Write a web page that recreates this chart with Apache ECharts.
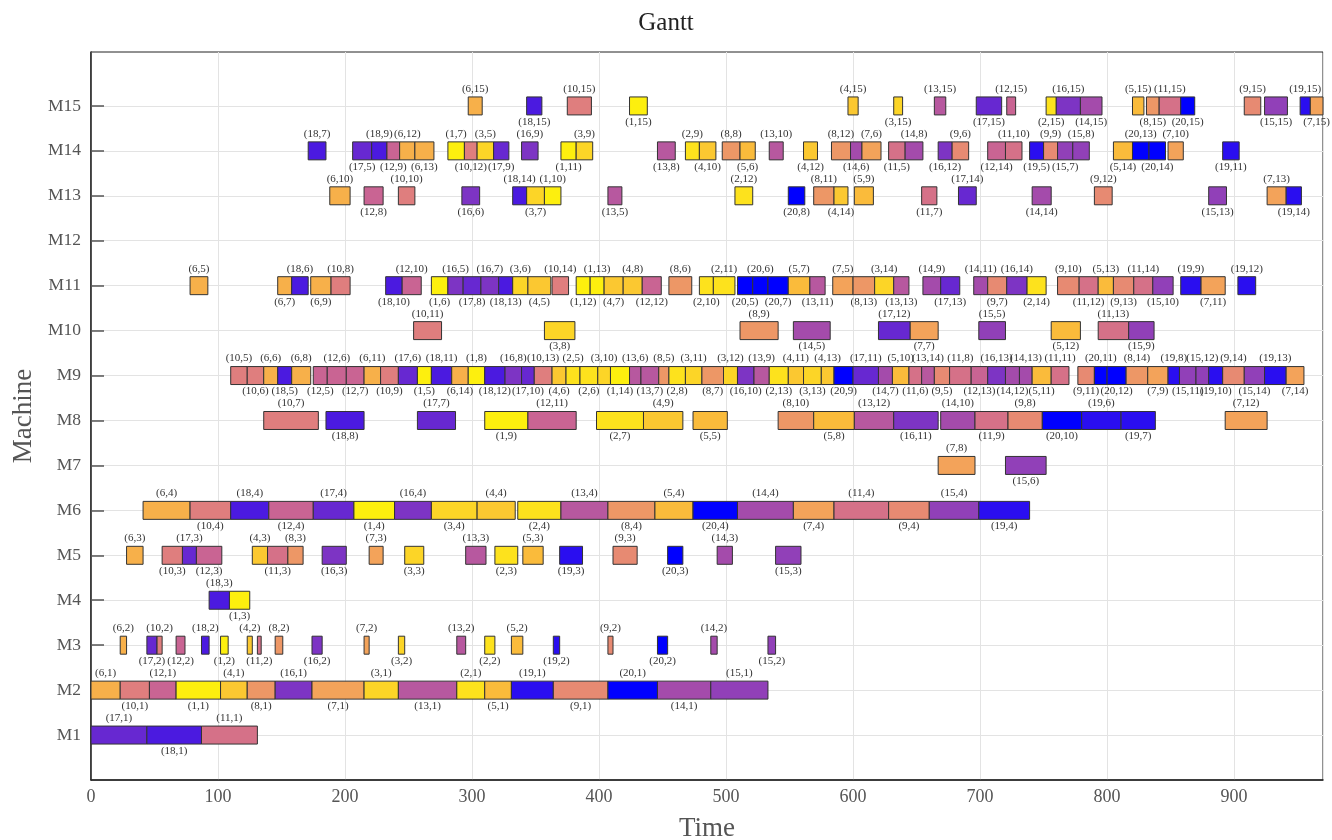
<!DOCTYPE html>
<html>
<head>
<meta charset="utf-8">
<title>Gantt</title>
<script src="https://cdn.jsdelivr.net/npm/echarts@6/dist/echarts.min.js"></script>
<style>
  html, body { margin: 0; padding: 0; background: #fff; }
  #chart { width: 1332px; height: 840px; }
</style>
</head>
<body>
<div id="chart"></div>
<script>
// operations on each machine, in time order: [job, op, start, end]
const m1 = [[17,1,0,44],[18,1,44,87],[11,1,87,131]]
const m2 = [[6,1,0,23],[10,1,23,46],[12,1,46,67],[1,1,67,102],[4,1,102,123],[8,1,123,145],[16,1,145,174],[7,1,174,215],[3,1,215,242],[13,1,242,288],[2,1,288,310],[5,1,310,331],[19,1,331,364],[9,1,364,407],[20,1,407,446],[14,1,446,488],[15,1,488,533]]
const m3 = [[6,2,23,28],[17,2,44,52],[10,2,52,56],[12,2,67,74],[18,2,87,93],[1,2,102,108],[4,2,123,127],[11,2,131,134],[8,2,145,151],[16,2,174,182],[7,2,215,219],[3,2,242,247],[13,2,288,295],[2,2,310,318],[5,2,331,340],[19,2,364,369],[9,2,407,411],[20,2,446,454],[14,2,488,493],[15,2,533,539]]
const m4 = [[18,3,93,109],[1,3,109,125]]
const m5 = [[6,3,28,41],[10,3,56,72],[17,3,72,83],[12,3,83,103],[4,3,127,139],[11,3,139,155],[8,3,155,167],[16,3,182,201],[7,3,219,230],[3,3,247,262],[13,3,295,311],[2,3,318,336],[5,3,340,356],[19,3,369,387],[9,3,411,430],[20,3,454,466],[14,3,493,505],[15,3,539,559]]
const m6 = [[6,4,41,78],[10,4,78,110],[18,4,110,140],[12,4,140,175],[17,4,175,207],[1,4,207,239],[16,4,239,268],[3,4,268,304],[4,4,304,334],[2,4,336,370],[13,4,370,407],[8,4,407,444],[5,4,444,474],[20,4,474,509],[14,4,509,553],[7,4,553,585],[11,4,585,628],[9,4,628,660],[15,4,660,699],[19,4,699,739]]
const m7 = [[7,8,667,696],[15,6,720,752]]
const m8 = [[10,7,136,179],[18,8,185,215],[17,7,257,287],[1,9,310,344],[12,11,344,382],[2,7,398,435],[4,9,435,466],[5,5,474,501],[8,10,541,569],[5,8,569,601],[13,12,601,632],[16,11,632,667],[14,10,669,696],[11,9,696,722],[9,8,722,749],[20,10,749,780],[19,6,780,811],[19,7,811,838],[7,12,893,926]]
const m9 = [[10,5,110,123],[10,6,123,136],[6,6,136,147],[18,5,147,158],[6,8,158,173],[12,5,175,186],[12,6,186,201],[12,7,201,215],[6,11,215,228],[10,9,228,242],[17,6,242,257],[1,5,257,268],[18,11,268,284],[6,14,284,297],[1,8,297,310],[18,12,310,326],[16,8,326,339],[17,10,339,349],[10,13,349,363],[4,6,363,374],[2,5,374,385],[2,6,385,399],[3,10,399,409],[1,14,409,424],[13,6,424,433],[13,7,433,447],[8,5,447,455],[2,8,455,468],[3,11,468,481],[8,7,481,498],[3,12,498,509],[16,10,509,522],[13,9,522,534],[2,13,534,549],[4,11,549,561],[3,13,561,575],[4,13,575,585],[20,9,585,600],[17,11,600,620],[14,7,620,631],[5,10,631,644],[11,6,644,654],[13,14,654,664],[9,5,664,676],[11,8,676,693],[12,13,693,706],[16,13,706,720],[14,12,720,731],[14,13,731,741],[5,11,741,756],[11,11,756,770],[9,11,777,790],[20,11,790,800],[20,12,800,815],[8,14,815,832],[7,9,832,848],[19,8,848,857],[15,11,857,870],[15,12,870,880],[19,10,880,891],[9,14,891,908],[15,14,908,924],[19,13,924,941],[7,14,941,955]]
const m10 = [[10,11,254,276],[3,8,357,381],[8,9,511,541],[14,5,553,582],[17,12,620,645],[7,7,645,667],[15,5,699,720],[5,12,756,779],[11,13,793,817],[15,9,817,837]]
const m11 = [[6,5,78,92],[6,7,147,158],[18,6,158,171],[6,9,173,189],[10,8,189,204],[18,10,232,245],[12,10,245,260],[1,6,268,281],[16,5,281,293],[17,8,293,307],[16,7,307,321],[18,13,321,332],[3,6,332,344],[4,5,344,362],[10,14,363,376],[1,12,382,393],[1,13,393,404],[4,7,404,419],[4,8,419,434],[12,12,434,449],[8,6,455,473],[2,10,479,490],[2,11,490,507],[20,5,509,521],[20,6,521,533],[20,7,533,549],[5,7,549,566],[13,11,566,578],[7,5,584,600],[8,13,600,617],[3,14,617,632],[13,13,632,644],[14,9,655,669],[17,13,669,684],[14,11,695,706],[9,7,706,721],[16,14,721,737],[2,14,737,752],[9,10,761,778],[11,12,778,793],[5,13,793,805],[9,13,805,821],[11,14,821,836],[15,10,836,852],[19,9,858,874],[7,11,874,893],[19,12,903,917]]
const m12 = []
const m13 = [[6,10,188,204],[12,8,215,230],[10,10,242,255],[16,6,292,306],[18,14,332,343],[3,7,343,357],[1,10,357,370],[13,5,407,418],[2,12,507,521],[20,8,549,562],[8,11,569,585],[4,14,585,596],[5,9,601,616],[11,7,654,666],[17,14,683,697],[14,14,741,756],[9,12,790,804],[15,13,880,894],[7,13,926,941],[19,14,941,953]]
const m14 = [[18,7,171,185],[17,5,206,221],[18,9,221,233],[12,9,233,243],[6,12,243,255],[6,13,255,270],[1,7,281,294],[10,12,294,304],[3,5,304,317],[17,9,317,329],[16,9,339,352],[1,11,370,382],[3,9,382,395],[13,8,446,460],[2,9,468,479],[4,10,479,492],[8,8,497,511],[5,6,511,523],[13,10,534,545],[4,12,561,572],[8,12,583,598],[14,6,598,607],[7,6,607,622],[11,5,628,641],[14,8,641,655],[16,12,667,678],[9,6,678,691],[12,14,706,720],[11,10,720,733],[19,5,739,750],[9,9,750,761],[15,7,761,773],[15,8,773,786],[5,14,805,820],[20,13,820,833],[20,14,833,846],[7,10,848,860],[19,11,891,904]]
const m15 = [[6,15,297,308],[18,15,343,355],[10,15,375,394],[1,15,424,438],[4,15,596,604],[3,15,632,639],[13,15,664,673],[17,15,697,717],[12,15,721,728],[2,15,752,760],[16,15,760,779],[14,15,779,796],[5,15,820,829],[8,15,831,841],[11,15,841,858],[20,15,858,869],[9,15,908,921],[15,15,924,942],[19,15,952,960],[7,15,960,970]]

const machines = [m1, m2, m3, m4, m5, m6, m7, m8, m9, m10, m11, m12, m13, m14, m15]
const machineLabels = ['M1','M2','M3','M4','M5','M6','M7','M8','M9','M10','M11','M12','M13','M14','M15']

// one colour per job, job 1 .. job 20
const jobColors = ['#fdef0e','#fde21d','#fcd527','#fbc831','#fabb3b','#f7b04a','#f3a35a','#ed9766','#e78a72','#df7e7e',
  '#d57188','#c96493','#b7589f','#a44bab','#9140b8','#7d34c4','#6728d1','#4b1ae0','#2a0ef0','#0000ff']

const serif = '"Liberation Serif", "DejaVu Serif", serif'
const barHeight = 0.4

// [start, end, machine, job, op, labelBelow]
const data = []
machines.forEach((ops, i) => {
  ops.forEach((o, k) => {
    data.push([o[2], o[3], i + 1, o[0], o[1], k % 2])
  })
})

function renderItem (params, api) {
  const p0 = api.coord([api.value(0), api.value(2)])
  const p1 = api.coord([api.value(1), api.value(2)])
  const h = api.size([0, barHeight])[1]
  const below = api.value(5) === 1
  const cx = (p0[0] + p1[0]) / 2
  return {
    type: 'group',
    children: [
      {
        type: 'rect',
        shape: { x: p0[0], y: p0[1] - h / 2, width: p1[0] - p0[0], height: h },
        style: { fill: jobColors[api.value(3) - 1], stroke: '#333', lineWidth: 1 }
      },
      {
        type: 'text',
        style: {
          text: '(' + api.value(3) + ',' + api.value(4) + ')',
          x: cx,
          y: below ? p0[1] + h / 2 + 7 : p0[1] - h / 2 - 8,
          align: 'center',
          verticalAlign: 'middle',
          font: '11px ' + serif,
          fill: '#333'
        }
      }
    ]
  }
}

const chart = echarts.init(document.getElementById('chart'))
const gridGray = '#e3e3e3'
const splitColors = []
for (let i = 0; i < 18; i++) splitColors.push(i === 16 ? 'rgba(0,0,0,0)' : gridGray)

chart.setOption({
  animation: false,
  title: {
    text: 'Gantt',
    left: 'center',
    top: 6,
    textStyle: { fontFamily: serif, fontSize: 25, fontWeight: 'normal', color: '#222' }
  },
  grid: {
    left: 91, top: 52, width: 1232, height: 728,
    outerBoundsMode: 'none',
    containLabel: false,
    show: true, borderColor: '#222', borderWidth: 1
  },
  xAxis: {
    type: 'value',
    min: 0,
    max: 970,
    interval: 100,
    name: 'Time',
    nameLocation: 'middle',
    nameGap: 35,
    nameTextStyle: { fontFamily: serif, fontSize: 27, color: '#555' },
    axisLine: { show: true, lineStyle: { color: '#222', width: 1.5 } },
    axisTick: { show: false },
    axisLabel: {
      fontFamily: serif, fontSize: 18, color: '#555', margin: 8,
      formatter: v => (v % 100 === 0 ? String(v) : '')
    },
    splitLine: { show: true, lineStyle: { color: gridGray, width: 1 } }
  },
  yAxis: {
    type: 'value',
    min: 0,
    max: 16.2,
    interval: 1,
    name: 'Machine',
    nameLocation: 'middle',
    nameGap: 44,
    nameTextStyle: { fontFamily: serif, fontSize: 27, color: '#555' },
    axisLine: { show: true, lineStyle: { color: '#222', width: 1.5 } },
    axisTick: {
      show: true, inside: true, length: 13, lineStyle: { color: '#555', width: 1.5 },
      customValues: [1,2,3,4,5,6,7,8,9,10,11,12,13,14,15]
    },
    axisLabel: {
      fontFamily: serif, fontSize: 17.5, color: '#555', margin: 10,
      customValues: [1,2,3,4,5,6,7,8,9,10,11,12,13,14,15],
      formatter: v => (Number.isInteger(v) && v >= 1 && v <= 15 ? machineLabels[v - 1] : '')
    },
    splitLine: { show: true, lineStyle: { color: splitColors, width: 1 } }
  },
  series: [{
    type: 'custom',
    renderItem: renderItem,
    encode: { x: [0, 1], y: 2 },
    data: data,
    clip: false
  }]
})
</script>
</body>
</html>
